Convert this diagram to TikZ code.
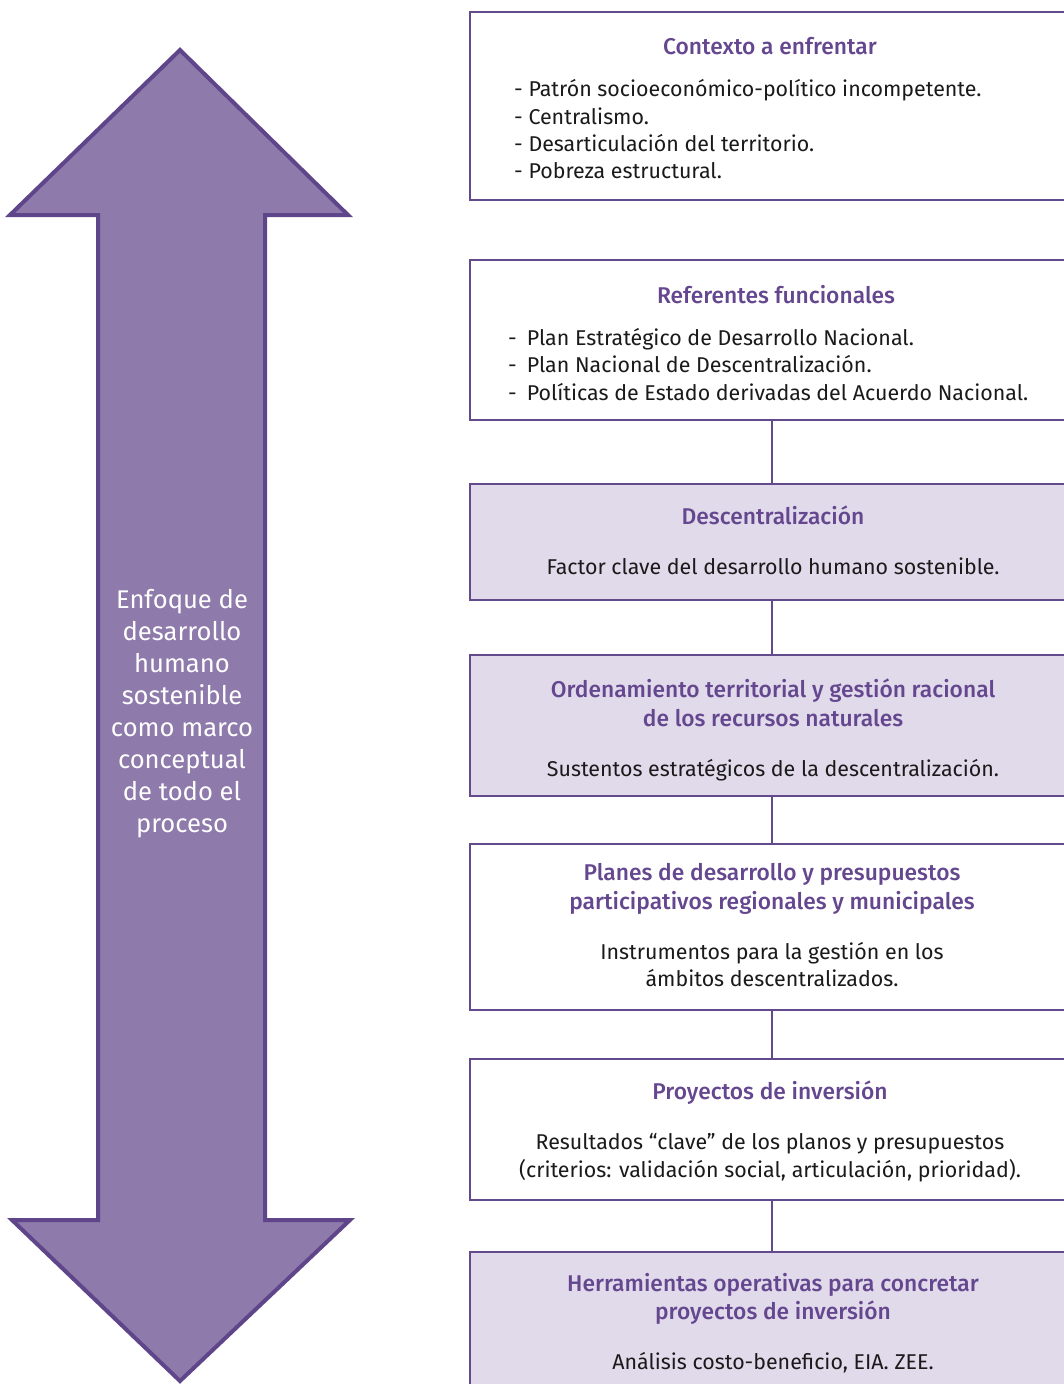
\documentclass[tikz,border=0pt]{standalone}
\usepackage{fontspec}
\setmainfont{Fira Sans}
\newfontfamily\titlefont{Fira Sans Medium}
\definecolor{arrowfill}{HTML}{8E7AAB}
\definecolor{arrowdraw}{HTML}{5F4589}
\definecolor{boxdraw}{HTML}{634A8C}
\definecolor{boxfill}{HTML}{E0DAEA}
\definecolor{titlecol}{HTML}{65478F}
\definecolor{bodycol}{HTML}{1A1A1A}
\tikzset{
  panel/.style={draw=boxdraw, line width=2.5pt, minimum width=604pt, inner sep=0pt, fill=white},
  panelfill/.style={panel, fill=boxfill},
  ttl/.style={font=\titlefont\fontsize{22.8}{27}\selectfont, text=titlecol, inner sep=0pt, anchor=base},
  body/.style={font=\fontsize{21.4}{27}\selectfont, text=bodycol, inner sep=0pt, anchor=base},
  item/.style={body, anchor=base west},
  link/.style={draw=boxdraw, line width=2.5pt},
  arrowtxt/.style={font=\fontsize{25.6}{32}\selectfont, text=white, inner sep=0pt, anchor=base}
}
\begin{document}
\begin{tikzpicture}[x=1pt,y=-1pt]
\useasboundingbox (0,0) rectangle (1064,1384);
\clip (0,0) rectangle (1064,1384);
% big double arrow
\draw[fill=arrowfill, draw=arrowdraw, line width=4pt, line join=miter]
  (180,50) -- (348,215) -- (265,215) -- (265,1220) -- (350,1220) -- (180,1381)
  -- (12,1220) -- (98,1220) -- (98,215) -- (10,215) -- cycle;
\node[arrowtxt] (a1) at (182,608) {Enfoque de};
\node[arrowtxt] (a2) at (182,640) {desarrollo};
\node[arrowtxt] (a3) at (182,672) {humano};
\node[arrowtxt] (a4) at (182,704) {sostenible};
\node[arrowtxt] (a5) at (182,736) {como marco};
\node[arrowtxt] (a6) at (182,768) {conceptual};
\node[arrowtxt] (a7) at (182,800) {de todo el};
\node[arrowtxt] (a8) at (182,832) {proceso};
% boxes
\node[panel, minimum height=188pt] (b1) at (772,106) {};
\node[panel, minimum height=160pt] (b2) at (772,340) {};
\node[panelfill, minimum height=116pt] (b3) at (772,542) {};
\node[panelfill, minimum height=141pt] (b4) at (772,725.5) {};
\node[panel, minimum height=166pt] (b5) at (772,927) {};
\node[panel, minimum height=141pt] (b6) at (772,1129.5) {};
\node[panelfill, minimum height=168pt] (b7) at (772,1336) {};
% connectors
\draw[link] (b2.south) -- (b3.north);
\draw[link] (b3.south) -- (b4.north);
\draw[link] (b4.south) -- (b5.north);
\draw[link] (b5.south) -- (b6.north);
\draw[link] (b6.south) -- (b7.north);
% box 1
\node[ttl] (t1) at (770,54) {Contexto a enfrentar};
\node[item] (i11) at (514,96) {- Patrón socioeconómico-político incompetente.};
\node[item] (i12) at (514,124) {- Centralismo.};
\node[item] (i13) at (514,151) {- Desarticulación del territorio.};
\node[item] (i14) at (514,178) {- Pobreza estructural.};
% box 2
\node[ttl] (t2) at (776,303) {Referentes funcionales};
\node[item] (i21) at (508,345) {-\hspace{10pt}Plan Estratégico de Desarrollo Nacional.};
\node[item] (i22) at (508,372) {-\hspace{10pt}Plan Nacional de Descentralización.};
\node[item] (i23) at (508,400) {-\hspace{10pt}Políticas de Estado derivadas del Acuerdo Nacional.};
% box 3
\node[ttl] (t3) at (773,524) {Descentralización};
\node[body] (d3) at (773,574) {Factor clave del desarrollo humano sostenible.};
% box 4
\node[ttl] (t4a) at (773,697) {Ordenamiento territorial y gestión racional};
\node[ttl] (t4b) at (773,726) {de los recursos naturales};
\node[body] (d4) at (773,776) {Sustentos estratégicos de la descentralización.};
% box 5
\node[ttl] (t5a) at (772,880) {Planes de desarrollo y presupuestos};
\node[ttl] (t5b) at (772,909) {participativos regionales y municipales};
\node[body] (d5a) at (772,959) {Instrumentos para la gestión en los};
\node[body] (d5b) at (772,986) {ámbitos descentralizados.};
% box 6
\node[ttl] (t6) at (770,1099) {Proyectos de inversión};
\node[body] (d6a) at (770,1149) {Resultados “clave” de los planos y presupuestos};
\node[body] (d6b) at (770,1177) {(criterios: validación social, articulación, prioridad).};
% box 7
\node[ttl] (t7a) at (773,1291) {Herramientas operativas para concretar};
\node[ttl] (t7b) at (773,1319) {proyectos de inversión};
\node[body] (d7) at (773,1369) {Análisis costo-beneficio, EIA. ZEE.};
\end{tikzpicture}
\end{document}
